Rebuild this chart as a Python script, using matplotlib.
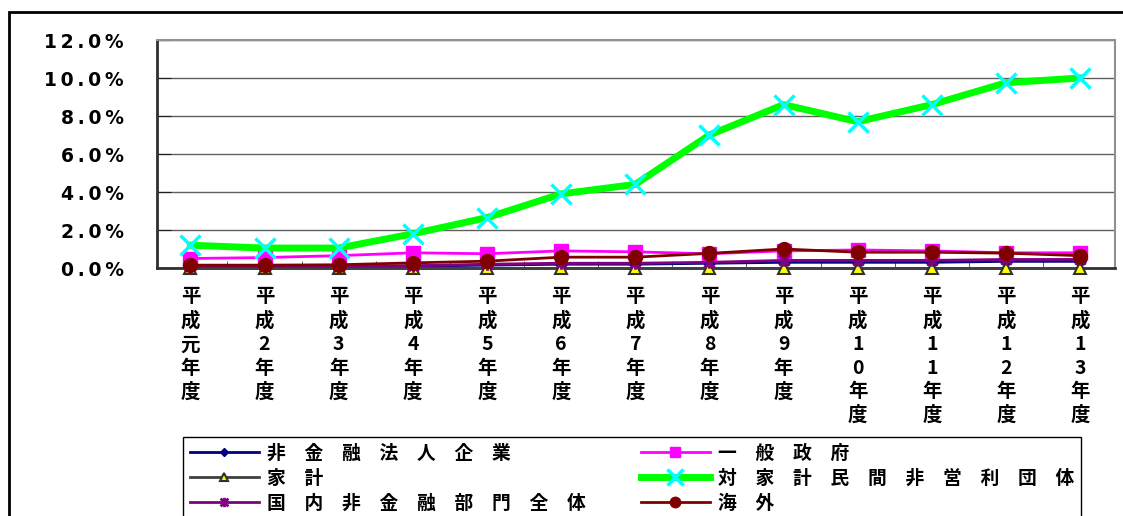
import matplotlib
matplotlib.use("Agg")
import matplotlib.pyplot as plt
from matplotlib.patches import Rectangle
from matplotlib.path import Path

plt.rcParams['font.family'] = ['Noto Sans CJK JP', 'DejaVu Sans']

categories = ['平成元年度', '平成2年度', '平成3年度', '平成4年度', '平成5年度', '平成6年度',
              '平成7年度', '平成8年度', '平成9年度', '平成10年度', '平成11年度', '平成12年度',
              '平成13年度']

series_names = ['非金融法人企業', '一般政府', '家計', '対家計民間非営利団体',
                '国内非金融部門全体', '海外']

nonfin_corp = [0.05, 0.05, 0.05, 0.10, 0.15, 0.20, 0.20, 0.25, 0.30, 0.30, 0.30, 0.35, 0.35]
general_gov = [0.50, 0.55, 0.65, 0.80, 0.75, 0.90, 0.85, 0.75, 0.90, 0.95, 0.90, 0.80, 0.80]
households = [0.0, 0.0, 0.0, 0.0, 0.0, 0.0, 0.0, 0.0, 0.0, 0.0, 0.0, 0.0, 0.0]
npish = [1.20, 1.05, 1.05, 1.80, 2.65, 3.90, 4.40, 7.00, 8.60, 7.70, 8.60, 9.75, 10.00]
domestic_total = [0.10, 0.10, 0.10, 0.12, 0.20, 0.25, 0.25, 0.30, 0.40, 0.40, 0.40, 0.45, 0.45]
overseas = [0.15, 0.15, 0.17, 0.27, 0.36, 0.57, 0.57, 0.77, 1.00, 0.83, 0.83, 0.78, 0.65]

y_ticks = [0, 2, 4, 6, 8, 10, 12]

W, H = 1123, 516
fig = plt.figure(figsize=(W / 100, H / 100), dpi=100)
ax = fig.add_axes([157 / W, 1 - 268 / H, (1115 - 157) / W, (268 - 40) / H])

x = list(range(len(categories)))

# Excel-style asterisk: X plus a vertical bar
star_path = Path([(-1, -1), (1, 1), (-1, 1), (1, -1), (0, -1.2), (0, 1.2)],
                 [Path.MOVETO, Path.LINETO, Path.MOVETO, Path.LINETO, Path.MOVETO, Path.LINETO])

styles = [
    dict(color='#000080', lw=2.0, marker='D', ms=6, mfc='#000080', mec='#000080'),
    dict(color='#FF00FF', lw=2.0, marker='s', ms=10, mfc='#FF00FF', mec='#FF00FF'),
    dict(color='#404040', lw=2.0, marker='^', ms=8, mfc='#FFFF00', mec='#303030', mew=1.5),
    dict(color='#00FF00', lw=5.0, marker='x', ms=15, mfc='#00FFFF', mec='#00FFFF', mew=2.5),
    dict(color='#800080', lw=2.0, marker=star_path, ms=9, mfc='#800080', mec='#800080', mew=2),
    dict(color='#800000', lw=2.0, marker='o', ms=10, mfc='#800000', mec='#800000'),
]
data = [nonfin_corp, general_gov, households, npish, domestic_total, overseas]

handles = []
for vals, st in zip(data, styles):
    h, = ax.plot(x, vals, clip_on=False, zorder=3, **st)
    handles.append(h)

ax.set_xlim(-0.45, 12.47)
ax.set_ylim(0, 12)
ax.set_yticks(y_ticks)

def spaced_pct(v):
    return '\u2009'.join('{:.1f}%'.format(v))

ax.set_yticklabels([spaced_pct(v) for v in y_ticks], family='DejaVu Sans',
                   fontweight='bold', fontsize=13.5)
ax.grid(axis='y', color='#606060', lw=1.0, zorder=0)
ax.set_axisbelow(True)

ax.set_xticks(x)
ax.set_xticklabels(['\n'.join(c) for c in categories], fontsize=14, fontweight='bold',
                   linespacing=1.3, va='top')
ax.set_xticks([i + 0.5 for i in range(len(categories) - 1)], minor=True)
ax.tick_params(axis='x', which='major', length=0, pad=14)
ax.tick_params(axis='x', which='minor', length=5, direction='in', color='#404040')
ax.tick_params(axis='y', which='major', length=10, direction='in', color='#202020', pad=24)

for side in ['top', 'right']:
    ax.spines[side].set_color('#909090')
    ax.spines[side].set_linewidth(1.5)
for side in ['left', 'bottom']:
    ax.spines[side].set_color('#303030')
    ax.spines[side].set_linewidth(2.0)

# outer chart-area frame
fig.patches.append(Rectangle((9 / W, -0.2), 1.5, 1 - 12 / H + 0.2, transform=fig.transFigure,
                             fill=False, ec='black', lw=2, clip_on=False))

def spaced(s):
    return '\u2003'.join(s)

order = [0, 2, 4, 1, 3, 5]
leg = fig.legend([handles[i] for i in order], [spaced(series_names[i]) for i in order],
                 loc='upper left', bbox_to_anchor=(183 / W, 1 - 437 / H), ncol=2,
                 frameon=True, fancybox=False, edgecolor='black', framealpha=1,
                 borderaxespad=0, borderpad=0.35, handlelength=3.7, handletextpad=0.45,
                 columnspacing=2.9, labelspacing=0.33, markerscale=0.75,
                 prop=dict(family=['Noto Sans CJK JP', 'DejaVu Sans'], weight='bold', size=13.5))
leg.get_frame().set_linewidth(1.0)

fig.savefig('out.png', dpi=100)
